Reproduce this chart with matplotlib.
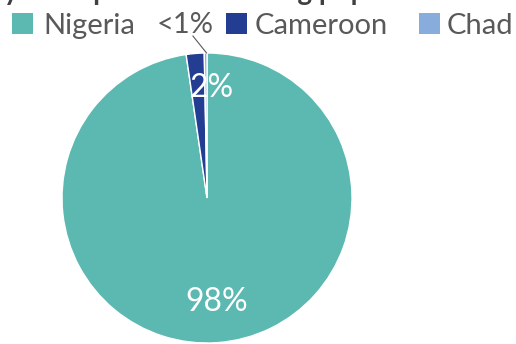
import matplotlib
matplotlib.use("Agg")
import matplotlib.pyplot as plt
from matplotlib.patches import Rectangle

categories = ["Nigeria", "Cameroon", "Chad"]
values = [97.7, 2.0, 0.3]
labels = ["98%", "2%", "<1%"]
colors = ["#5BB9B1", "#233D92", "#88ACDC"]
title = "ly of displacement among population"

plt.rcParams['font.family'] = ['Lato', 'DejaVu Sans']

fig = plt.figure(figsize=(5.16, 3.44), dpi=100)
W, H = 516, 344
cx, cy, r = 207, 146, 145
ax = fig.add_axes([(cx - r) / W, (cy - r) / H, 2 * r / W, 2 * r / H])
wedges, _ = ax.pie(values, colors=colors, startangle=90, counterclock=False,
                   radius=1, wedgeprops=dict(edgecolor="white", linewidth=1))
ax.set_xlim(-1, 1)
ax.set_ylim(-1, 1)
ax.axis("off")

# in-slice labels
ax.text(0.07, -0.72, labels[0], color="white", fontsize=23, ha="center", va="center")
ax.text(0.03, 0.76, labels[1], color="white", fontsize=23, ha="center", va="center")
# outside label for Chad with leader line
ax.plot([-0.097, -0.003], [1.117, 1.0], color="#595959", lw=0.8, clip_on=False)
fig.text(185.5 / W, 1 - 33 / H, labels[2], fontsize=21, color="#595959",
         ha="center", va="baseline")

# legend drawn manually
sq_x = [12, 226, 419]
txt_x = [43, 255, 447]
for c, name, sx, tx in zip(colors, categories, sq_x, txt_x):
    fig.patches.append(Rectangle((sx / W, 1 - 34 / H), 20.5 / W, 21 / H,
                                 transform=fig.transFigure, facecolor=c,
                                 edgecolor="none"))
    fig.text(tx / W, 1 - 34 / H, name, fontsize=21, color="#595959",
             ha="left", va="baseline")

fig.text(-0.005, 0.999, title, fontsize=20, fontweight="bold", color="#404040",
         ha="left", va="baseline")

fig.savefig("out.png", dpi=100)
